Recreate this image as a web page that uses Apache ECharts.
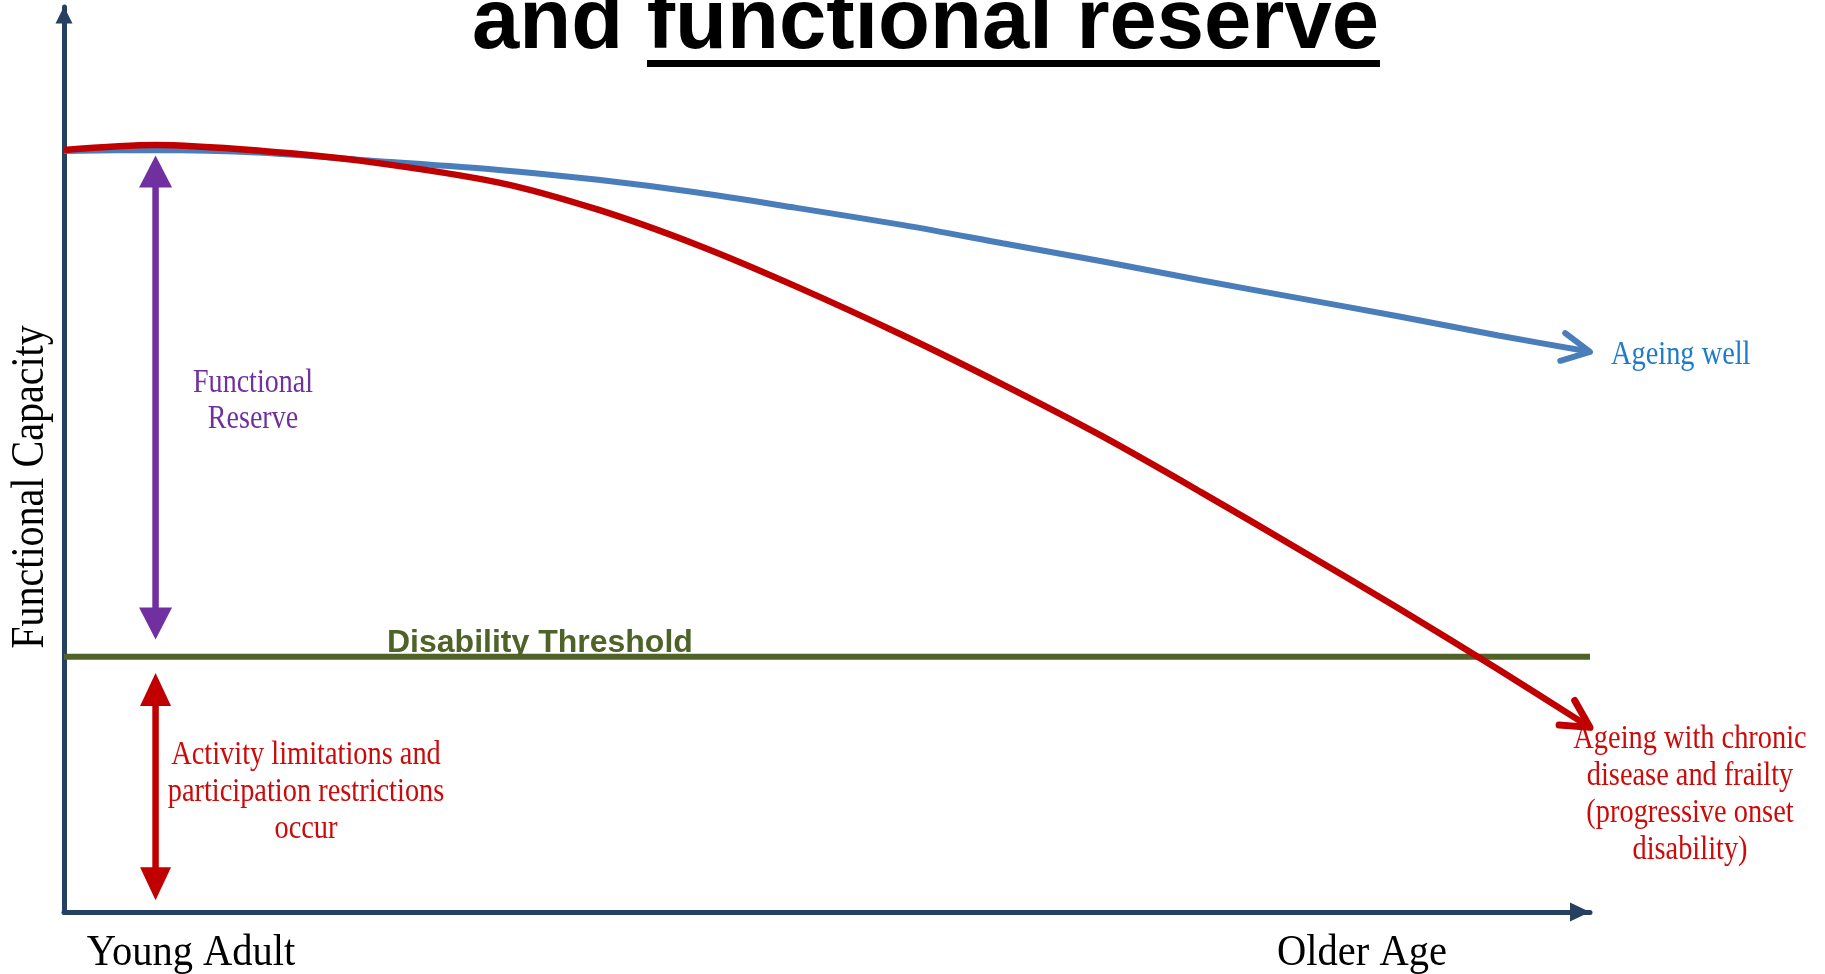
<!DOCTYPE html>
<html>
<head>
<meta charset="utf-8">
<title>Functional capacity and functional reserve</title>
<script src="https://cdn.jsdelivr.net/npm/echarts@6/dist/echarts.min.js"></script>
<style>
  html, body { margin: 0; padding: 0; background: #fff; }
  #chart { width: 1825px; height: 974px; }
</style>
</head>
<body>
<div id="chart"></div>
<script>
// age runs 0 (young adult) -> 100 (older age), capacity 0 -> 100
const ages = [0, 6, 13, 19.5, 28.5, 35, 41.5, 48, 55, 61.5, 68, 74.5, 81, 87.5, 94, 100]
const ageingWell = [84.1, 84.2, 83.9, 83.1, 82.0, 80.9, 79.5, 77.8, 75.9, 73.9, 71.9, 69.8, 67.8, 65.8, 63.7, 61.9]
const ageingFrail = [84.2, 84.75, 84.1, 83.0, 80.6, 77.6, 73.7, 69.1, 63.7, 58.3, 52.6, 46.4, 40.0, 33.5, 26.8, 20.4]
const disabilityThreshold = 28.2
// [age, low end, high end] of the two double arrows
const reserveSpan = [6, 30.1, 83.6]
const limitationSpan = [6, 1.3, 26.4]
const axisEndLabels = ['Young Adult', 'Older Age']

const serif = '"Liberation Serif", "Times New Roman", serif'
const sans = '"Liberation Sans", Arial, sans-serif'
const NAVY = '#254061'
const BLUE = '#4A7EBB'
const RED = '#C00000'
const PURPLE = '#7030A0'
const GREEN = '#4F6228'

const chart = echarts.init(document.getElementById('chart'))

const toPairs = (xs, ys) => xs.map((x, i) => [x, ys[i]])
const lastTwo = (xs, ys) => {
  const n = xs.length
  return [xs[n - 1], ys[n - 1], xs[n - 2], ys[n - 2]]
}

// vertical arrow with a filled head at both ends
const doubleArrow = (headW, headL, shaft) => (params, api) => {
  const lo = api.coord([api.value(0), api.value(1)])
  const hi = api.coord([api.value(0), api.value(2)])
  const color = api.visual('color')
  const hw = headW / 2
  return {
    type: 'group',
    children: [
      { type: 'line', shape: { x1: lo[0], y1: lo[1] - headL + 2, x2: hi[0], y2: hi[1] + headL - 2 },
        style: { stroke: color, lineWidth: shaft } },
      { type: 'polygon', shape: { points: [[hi[0], hi[1]], [hi[0] - hw, hi[1] + headL], [hi[0] + hw, hi[1] + headL]] },
        style: { fill: color } },
      { type: 'polygon', shape: { points: [[lo[0], lo[1]], [lo[0] - hw, lo[1] - headL], [lo[0] + hw, lo[1] - headL]] },
        style: { fill: color } }
    ]
  }
}

// open arrow head at the end of a curve, pointing along its last segment
const chevron = (len, spread, width) => (params, api) => {
  const tip = api.coord([api.value(0), api.value(1)])
  const prev = api.coord([api.value(2), api.value(3)])
  const ang = Math.atan2(tip[1] - prev[1], tip[0] - prev[0]) + Math.PI
  const a1 = [tip[0] + len * Math.cos(ang - spread), tip[1] + len * Math.sin(ang - spread)]
  const a2 = [tip[0] + len * Math.cos(ang + spread), tip[1] + len * Math.sin(ang + spread)]
  return {
    type: 'polyline',
    shape: { points: [a1, tip, a2] },
    style: { stroke: api.visual('color'), lineWidth: width, lineCap: 'round', lineJoin: 'round', fill: null }
  }
}

const text = (t, x, y, font, fill, opts = {}) => ({
  type: 'text',
  x, y,
  rotation: opts.rotation || 0,
  scaleX: opts.scaleX || 1,
  z: 1,
  style: {
    text: t,
    font,
    fill,
    align: opts.align || 'center',
    verticalAlign: 'middle',
    lineHeight: opts.lineHeight
  }
})

chart.setOption({
  animation: false,
  backgroundColor: '#fff',
  grid: { left: 64, right: 235, top: 7, bottom: 62 },
  xAxis: {
    type: 'value', min: 0, max: 100,
    axisLine: { show: true, symbol: ['none', 'triangle'], symbolSize: [19, 20], symbolOffset: [0, -10],
      lineStyle: { color: NAVY, width: 5 } },
    axisTick: { show: false }, axisLabel: { show: false }, splitLine: { show: false }
  },
  yAxis: {
    type: 'value', min: 0, max: 100,
    axisLine: { show: true, symbol: ['none', 'triangle'], symbolSize: [17, 17], symbolOffset: [0, -8],
      lineStyle: { color: NAVY, width: 5 } },
    axisTick: { show: false }, axisLabel: { show: false }, splitLine: { show: false }
  },
  series: [
    {
      name: 'Disability Threshold', type: 'line', symbol: 'none', silent: true,
      data: [[0, disabilityThreshold], [100, disabilityThreshold]],
      lineStyle: { color: GREEN, width: 6 }
    },
    {
      name: 'Ageing well', type: 'line', symbol: 'none', smooth: 0.3, silent: true,
      data: toPairs(ages, ageingWell),
      lineStyle: { color: BLUE, width: 6 }
    },
    {
      name: 'Ageing with chronic disease and frailty', type: 'line', symbol: 'none', smooth: 0.3, silent: true,
      data: toPairs(ages, ageingFrail),
      lineStyle: { color: RED, width: 6.5 }
    },
    {
      type: 'custom', silent: true, itemStyle: { color: BLUE },
      data: [lastTwo(ages, ageingWell)], renderItem: chevron(31, 0.47, 6)
    },
    {
      type: 'custom', silent: true, itemStyle: { color: RED },
      data: [lastTwo(ages, ageingFrail)], renderItem: chevron(31, 0.49, 7)
    },
    {
      name: 'Functional Reserve', type: 'custom', silent: true, itemStyle: { color: PURPLE },
      encode: { x: 0, y: [1, 2] },
      data: [reserveSpan], renderItem: doubleArrow(33, 32, 6.5)
    },
    {
      name: 'Activity limitations', type: 'custom', silent: true, itemStyle: { color: RED },
      encode: { x: 0, y: [1, 2] },
      data: [limitationSpan], renderItem: doubleArrow(31, 33, 6.5)
    }
  ],
  graphic: [
    text('and functional reserve', 472, 24.5, 'bold 85px ' + sans, '#000', { align: 'left' }),
    { type: 'rect', shape: { x: 647, y: 60, width: 733, height: 7 }, style: { fill: '#000' } },
    text('Functional Capacity', 31, 487, '46px ' + serif, '#000', { rotation: Math.PI / 2, scaleX: 0.87 }),
    text(axisEndLabels[0], 191, 953, '45px ' + serif, '#000', { scaleX: 0.9 }),
    text(axisEndLabels[1], 1362, 953, '45px ' + serif, '#000', { scaleX: 0.9 }),
    text('Disability Threshold', 387, 643, 'bold 32px ' + sans, GREEN, { align: 'left' }),
    text('Functional\nReserve', 253, 401, '33px ' + serif, PURPLE, { scaleX: 0.85, lineHeight: 36 }),
    text('Activity limitations and\nparticipation restrictions\noccur', 306, 792, '33px ' + serif, '#CC0A0A',
      { scaleX: 0.86, lineHeight: 37 }),
    text('Ageing well', 1611, 355, '33px ' + serif, '#1E7BCB', { align: 'left', scaleX: 0.86 }),
    text('Ageing with chronic\ndisease and frailty\n(progressive onset\ndisability)', 1690, 795, '33px ' + serif,
      '#CC0A0A', { scaleX: 0.86, lineHeight: 37 })
  ]
})

window.addEventListener('resize', () => chart.resize())
</script>
</body>
</html>
